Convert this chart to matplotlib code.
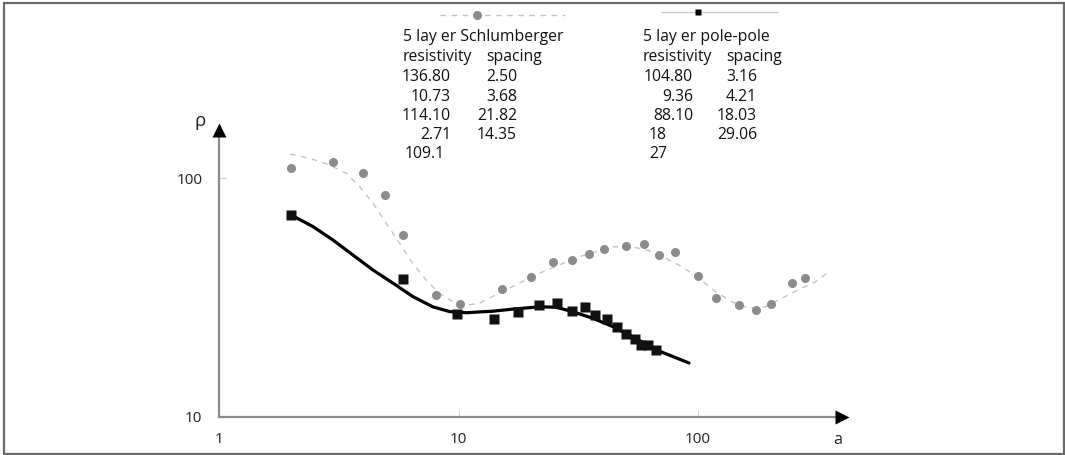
import numpy as np
import matplotlib
matplotlib.use('Agg')
import matplotlib.pyplot as plt
from matplotlib.lines import Line2D
from matplotlib.patches import Rectangle

plt.rcParams['font.family'] = ['Open Sans', 'DejaVu Sans']

# measured apparent resistivity, Schlumberger array
schl_a = [2.0, 3.0, 4.0, 4.95, 5.88, 8.04, 10.1, 15.2, 20.1, 24.9, 29.9, 35.1,
          40.6, 50.0, 59.6, 69.0, 80.0, 100, 119, 148, 175, 201, 248, 280]
schl_rho = [110, 116.6, 105.6, 84.9, 57.8, 32.5, 29.8, 34.2, 38.5, 44.7, 45.4, 48.3,
            50.7, 51.9, 53.2, 47.5, 49.2, 38.9, 31.5, 29.4, 28.1, 29.6, 36.5, 38.1]

# model curve, Schlumberger
schl_fit_a = [1.98, 2.39, 2.90, 3.40, 3.87, 4.40, 5.00, 5.68, 6.45, 7.33, 8.33, 9.47,
              10.8, 12.2, 14.8, 21.8, 31.9, 44.0, 53.2, 62.5, 73.3, 86.0, 100.9,
              118.5, 139, 163, 191, 224, 264, 309, 346]
schl_fit_rho = [126.4, 121.3, 113.7, 104.9, 92.2, 78.5, 64.7, 53.3, 43.9, 37.4, 32.9, 30.4,
                29.4, 29.9, 33.0, 40.0, 46.9, 51.6, 51.6, 49.7, 46.2, 42.5, 38.1,
                33.4, 30.3, 28.5, 28.9, 31.4, 34.2, 36.8, 40.0]

# measured apparent resistivity, pole-pole array
pole_a = [2.0, 5.88, 9.84, 14.1, 17.8, 21.7, 25.9, 29.9, 33.7, 37.3, 41.8,
          46.1, 50.0, 54.5, 57.9, 61.7, 66.6]
pole_rho = [70.2, 37.9, 26.9, 25.7, 27.6, 29.4, 29.9, 27.8, 28.8, 26.7, 25.7,
            23.7, 22.3, 21.1, 20.0, 20.0, 19.0]

# model curve, pole-pole
pole_fit_a = [2.0, 2.47, 2.99, 3.63, 4.40, 5.33, 6.45, 7.81, 9.19, 10.8, 12.2,
              13.9, 17.0, 21.8, 25.5, 29.9, 36.3, 44.0, 53.2, 66.6, 91.7]
pole_fit_rho = [70.2, 62.7, 55.1, 47.6, 41.2, 36.3, 31.9, 28.9, 27.6, 27.3, 27.5,
                27.7, 28.3, 28.9, 28.8, 27.6, 25.9, 23.9, 21.7, 19.1, 16.8]

schl_res = ['136.80', '10.73', '114.10', '2.71']
schl_sp = ['2.50', '3.68', '21.82', '14.35']
pole_res = ['104.80', '9.36', '88.10']
pole_sp = ['3.16', '4.21', '18.03', '29.06']

W, H = 1065, 455
fig = plt.figure(figsize=(W / 100, H / 100), dpi=100)

x0, x1 = 219, 848      # pixel positions of a=1 and arrow tip
y0, y1 = 416.7, 124    # pixel positions of rho=10 and arrow tip
ax = fig.add_axes([x0 / W, (H - y0) / H, (x1 - x0) / W, (y0 - y1) / H])
ax.set_xscale('log')
ax.set_yscale('log')
ax.set_xlim(1, 10 ** ((x1 - x0) / 239.5))
ax.set_ylim(10, 10 ** (1 + (y0 - y1) / 238.4))

ax.plot(schl_fit_a, schl_fit_rho, color='#c4c4c4', lw=1.0, ls=(0, (4, 4)), zorder=2)
ax.plot(pole_fit_a, pole_fit_rho, color='black', lw=2.3, zorder=3,
        solid_joinstyle='round', solid_capstyle='round')
ax.plot(schl_a, schl_rho, 'o', color='#8c8c8c', ms=6.5, mec='none', zorder=4)
ax.plot(pole_a, pole_rho, 's', color='#111111', ms=7, mec='none', zorder=5)

for s in ax.spines.values():
    s.set_visible(False)
ax.plot([0, 0.985], [0, 0], color='#8a8a8a', lw=1.6, transform=ax.transAxes, clip_on=False)
ax.plot([0, 0], [0, 0.975], color='#8a8a8a', lw=1.6, transform=ax.transAxes, clip_on=False)
ax.plot([0.99], [0], marker='>', color='black', ms=10, transform=ax.transAxes, clip_on=False, mec='none')
ax.plot([0], [0.98], marker='^', color='black', ms=10, transform=ax.transAxes, clip_on=False, mec='none')

ax.set_xticks([1, 10, 100])
ax.set_xticklabels(['1', '10', '100'])
ax.set_yticks([10, 100])
ax.set_yticklabels(['10', '100'])
ax.minorticks_off()
ax.tick_params(direction='in', length=5, width=0.6, color='#c8c8c8', labelsize=11,
               labelcolor='#222222')
ax.tick_params(axis='x', pad=11)
ax.tick_params(axis='y', pad=12)

fig.text(838 / W, 1 - 440 / H, 'a', fontsize=11.5, ha='center', va='center', color='#222222')
fig.text(200 / W, 1 - 121 / H, 'ρ', fontsize=13.5, ha='center', va='center', color='#222222')

# legend-style header blocks
fs = 11.3
rows = [36.7, 57.3, 77.3, 96.7, 116, 135, 154]
def t(x, y, s, ha='left'):
    fig.text(x / W, 1 - y / H, s, fontsize=fs, ha=ha, va='center', color='#111111')

t(403, rows[0], '5 lay er Schlumberger')
t(403, rows[1], 'resistivity')
t(486, rows[1], 'spacing')
for i, v in enumerate(schl_res):
    t(451, rows[2 + i], v, ha='right')
t(405, rows[6], '109.1')
for i, v in enumerate(schl_sp):
    t(517, rows[2 + i], v, ha='right')

t(643, rows[0], '5 lay er pole-pole')
t(643, rows[1], 'resistivity')
t(726, rows[1], 'spacing')
for i, v in enumerate(pole_res):
    t(693, rows[2 + i], v, ha='right')
t(649, rows[5], '18')
t(649, rows[6], '27')
for i, v in enumerate(pole_sp):
    t(757, rows[2 + i], v, ha='right')

fig.add_artist(Line2D([440 / W, 565 / W], [1 - 15 / H, 1 - 15 / H], color='#c4c4c4',
                      lw=1.0, ls=(0, (4, 4))))
fig.add_artist(Line2D([477 / W], [1 - 15 / H], marker='o', color='#8c8c8c', ms=6.5, mec='none'))
fig.add_artist(Line2D([662 / W, 777 / W], [1 - 12 / H, 1 - 12 / H], color='#c8c8c8', lw=1.0))
fig.add_artist(Line2D([698 / W], [1 - 12 / H], marker='s', color='black', ms=4, mec='none'))

fig.add_artist(Rectangle((4.5 / W, 1.5 / H), 1059 / W, 450.5 / H, fill=False,
                         edgecolor='#6a6a6a', lw=1.6, transform=fig.transFigure))

fig.savefig('out.png', dpi=100)
